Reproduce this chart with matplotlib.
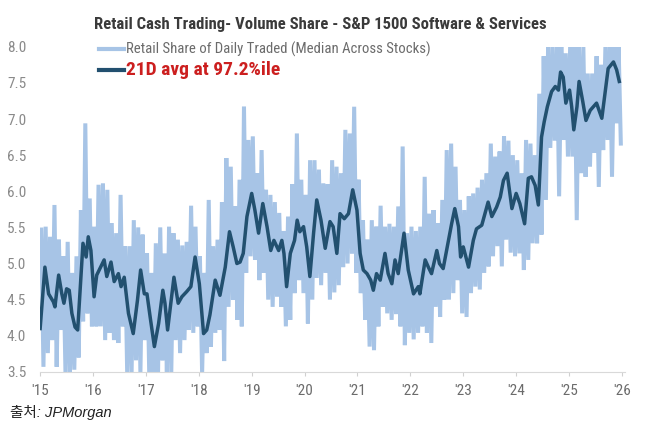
import matplotlib
matplotlib.use("Agg")
import matplotlib.pyplot as plt
import numpy as np

# MONTHLY ENVELOPE OF THE DAILY SERIES (HIGH / LOW), JAN 2015 .. DEC 2025
light_high = [
    5.47, 5.51, 5.37, 5.81, 5.33, 5.10, 5.30, 4.87, 5.10, 5.74, 6.94, 5.90,  # 2015
    5.51, 6.09, 6.11, 6.02, 5.56, 5.42, 5.95, 5.24, 5.24, 5.60, 5.50, 5.40,  # 2016
    5.14, 4.87, 5.28, 5.50, 5.14, 5.51, 5.42, 5.33, 5.25, 5.30, 5.80, 5.51,  # 2017
    5.10, 4.87, 5.88, 5.24, 5.33, 5.85, 6.46, 6.34, 5.79, 6.16, 7.17, 6.71,  # 2018
    6.76, 6.25, 6.57, 6.02, 5.95, 5.85, 5.70, 5.45, 5.65, 6.10, 6.80, 6.16,  # 2019
    5.95, 6.43, 6.43, 6.30, 6.11, 6.10, 6.43, 6.34, 6.25, 6.85, 6.80, 7.17,  # 2020
    6.16, 5.60, 5.33, 5.60, 5.51, 5.80, 5.51, 5.55, 5.51, 5.79, 6.62, 5.42,  # 2021
    5.51, 5.45, 5.51, 6.20, 5.69, 5.74, 5.56, 5.88, 6.57, 6.66, 6.34, 5.88,  # 2022
    5.74, 5.93, 5.97, 6.05, 6.16, 6.25, 6.66, 6.48, 6.55, 6.76, 6.70, 6.50,  # 2023
    6.43, 6.25, 6.71, 6.66, 6.50, 7.35, 7.87, 8.00, 8.00, 8.00, 8.00, 7.91,  # 2024
    8.00, 8.00, 8.00, 8.00, 7.63, 7.63, 7.87, 7.75, 8.00, 8.00, 8.00, 8.00,  # 2025
]
light_low = [
    3.57, 3.76, 3.94, 3.57, 4.08, 3.48, 3.48, 3.53, 3.70, 4.20, 4.31, 4.13,  # 2015
    4.13, 4.13, 3.94, 4.04, 3.94, 3.90, 4.13, 3.48, 3.48, 3.66, 3.48, 3.94,  # 2016
    3.48, 3.48, 3.48, 3.66, 3.48, 3.48, 3.94, 3.76, 3.94, 4.08, 4.04, 4.13,  # 2017
    3.48, 3.76, 3.85, 4.04, 4.08, 3.65, 4.40, 4.50, 4.22, 4.13, 4.87, 5.10,  # 2018
    5.05, 4.77, 4.87, 4.50, 4.40, 4.54, 4.40, 4.13, 4.22, 4.59, 4.77, 4.59,  # 2019
    4.17, 4.50, 4.80, 4.70, 4.87, 4.50, 4.60, 4.70, 4.95, 5.00, 5.14, 4.87,  # 2020
    4.59, 4.22, 3.85, 3.80, 4.13, 4.40, 4.31, 4.22, 4.30, 4.13, 3.87, 4.04,  # 2021
    3.95, 4.04, 4.13, 4.04, 3.90, 4.40, 4.26, 4.50, 4.50, 4.59, 4.77, 4.31,  # 2022
    4.26, 4.59, 4.68, 4.64, 4.87, 4.96, 5.10, 5.24, 4.96, 5.33, 5.15, 5.10,  # 2023
    5.14, 4.91, 5.05, 5.28, 5.28, 5.40, 5.88, 6.60, 6.70, 5.93, 6.71, 6.48,  # 2024
    6.48, 5.60, 6.25, 6.20, 6.34, 6.53, 6.06, 6.57, 6.71, 6.20, 6.94, 6.66,  # 2025
]

# 21D AVERAGE, (DECIMAL YEAR, VALUE)
avg_dates = [
    2015.00, 2015.09, 2015.16, 2015.25, 2015.28, 2015.35, 2015.41, 2015.45,
    2015.50, 2015.55, 2015.60, 2015.66, 2015.71, 2015.81, 2015.87, 2015.91,
    2015.96, 2016.02, 2016.07, 2016.13, 2016.21, 2016.26, 2016.34, 2016.40,
    2016.48, 2016.53, 2016.59, 2016.67, 2016.76, 2016.84, 2016.90, 2016.97,
    2017.02, 2017.08, 2017.16, 2017.24, 2017.32, 2017.36, 2017.41, 2017.47,
    2017.53, 2017.61, 2017.68, 2017.77, 2017.85, 2017.93, 2018.01, 2018.09,
    2018.15, 2018.21, 2018.31, 2018.40, 2018.50, 2018.58, 2018.65, 2018.72,
    2018.78, 2018.84, 2018.91, 2019.00, 2019.06, 2019.13, 2019.21, 2019.29,
    2019.36, 2019.42, 2019.51, 2019.57, 2019.61, 2019.66, 2019.73, 2019.81,
    2019.86, 2019.91, 2019.98, 2020.04, 2020.10, 2020.17, 2020.23, 2020.31,
    2020.39, 2020.48, 2020.54, 2020.61, 2020.67, 2020.75, 2020.83, 2020.91,
    2020.99, 2021.05, 2021.11, 2021.18, 2021.25, 2021.30, 2021.36, 2021.43,
    2021.52, 2021.58, 2021.65, 2021.71, 2021.77, 2021.88, 2021.96, 2022.06,
    2022.15, 2022.18, 2022.28, 2022.34, 2022.40, 2022.50, 2022.55, 2022.62,
    2022.72, 2022.78, 2022.84, 2022.91, 2022.95, 2023.00, 2023.10, 2023.19,
    2023.25, 2023.35, 2023.47, 2023.54, 2023.63, 2023.70, 2023.76, 2023.83,
    2023.92, 2024.00, 2024.07, 2024.16, 2024.23, 2024.29, 2024.36, 2024.42,
    2024.48, 2024.53, 2024.59, 2024.67, 2024.74, 2024.80, 2024.84, 2024.89,
    2024.94, 2025.01, 2025.05, 2025.09, 2025.15, 2025.19, 2025.26, 2025.32,
    2025.40, 2025.46, 2025.52, 2025.62, 2025.68, 2025.74, 2025.84, 2025.90,
    2025.95,
]
avg_values = [
    4.10, 4.95, 4.58, 4.47, 4.40, 4.84, 4.58, 4.45,
    4.65, 4.63, 4.31, 4.12, 4.08, 5.28, 5.09, 5.37,
    5.18, 4.54, 4.84, 4.93, 5.05, 4.82, 5.02, 4.75,
    4.86, 4.68, 4.81, 4.31, 4.03, 4.49, 4.91, 4.58,
    4.58, 4.26, 3.85, 4.17, 4.63, 4.45, 4.08, 4.45,
    4.81, 4.45, 4.54, 4.61, 4.68, 5.09, 4.72, 4.03,
    4.08, 4.29, 4.77, 4.56, 4.95, 5.44, 5.23, 5.00,
    5.02, 5.14, 5.65, 5.97, 5.74, 5.42, 5.83, 5.51,
    5.18, 5.32, 5.18, 5.32, 5.14, 4.68, 5.14, 5.32,
    5.60, 5.44, 5.51, 5.23, 4.82, 5.42, 5.88, 5.60,
    5.21, 5.58, 5.51, 5.14, 5.69, 5.62, 5.69, 6.02,
    5.74, 5.14, 4.91, 4.86, 4.77, 4.63, 4.86, 4.77,
    5.14, 4.86, 4.72, 5.05, 4.86, 5.42, 4.91, 4.58,
    4.68, 4.58, 5.05, 4.95, 4.86, 5.18, 5.00, 4.93,
    5.32, 5.55, 5.76, 5.51, 5.09, 5.23, 4.95, 5.32,
    5.48, 5.53, 5.85, 5.65, 5.78, 5.92, 6.15, 6.25,
    5.76, 5.97, 5.83, 5.55, 6.18, 6.20, 6.08, 5.81,
    6.75, 6.96, 7.17, 7.38, 7.45, 7.40, 7.65, 7.58,
    7.22, 7.40, 7.17, 6.85, 7.17, 7.52, 7.24, 6.98,
    7.12, 7.17, 7.22, 7.01, 7.36, 7.70, 7.79, 7.68,
    7.52,
]

years = list(range(2015, 2027))
year_labels = ["'" + str(y)[2:] for y in years]
y_ticks = [3.5, 4.0, 4.5, 5.0, 5.5, 6.0, 6.5, 7.0, 7.5, 8.0]

LIGHT = "#a7c4e6"
DARK = "#22506f"
NARROW = ["Liberation Sans Narrow", "Roboto Condensed", "Liberation Sans", "DejaVu Sans"]

# BUILD THE DAILY-LOOKING ZIGZAG: HIGH THEN LOW WITHIN EACH MONTH
month_start = 2015 + np.arange(len(light_high)) / 12.0
zig_x = np.column_stack([month_start + 0.25 / 12, month_start + 0.75 / 12]).ravel()
zig_y = np.column_stack([light_high, light_low]).ravel()

fig = plt.figure(figsize=(6.58, 4.37), dpi=100)
ax = fig.add_axes([0.061, 0.149, 0.889, 0.744])

ax.plot(zig_x, zig_y, color=LIGHT, lw=2.9, solid_joinstyle="miter",
        label="Retail Share of Daily Traded (Median Across Stocks)")
ax.plot(avg_dates, avg_values, color=DARK, lw=2.5,
        label="21D avg at 97.2%ile")

ax.set_xlim(2015.0, 2026.06)
ax.set_ylim(3.5, 8.0)
ax.set_xticks(years)
ax.set_xticklabels(year_labels, family=NARROW, fontsize=11, color="#6b6b6b")
ax.set_yticks(y_ticks)
ax.set_yticklabels([f"{v:.1f}" for v in y_ticks], family=NARROW,
                   fontsize=11, color="#8a8a8a")
ax.tick_params(axis="y", length=0, pad=10)
ax.tick_params(axis="x", length=3, color="#d0d0d0", pad=6)
for side in ["top", "right", "left"]:
    ax.spines[side].set_visible(False)
ax.spines["bottom"].set_color("#d9d9d9")

fig.text(0.487, 0.945, "Retail Cash Trading- Volume Share - S&P 1500 Software & Services",
         ha="center", va="center", family=NARROW, fontsize=12.0,
         fontweight="bold", color="#3a3a3a")

leg = ax.legend(loc="upper left", bbox_to_anchor=(0.141, 0.917),
                bbox_transform=fig.transFigure, frameon=False,
                handlelength=1.75, handletextpad=0.1, labelspacing=0.25,
                borderaxespad=0, prop={"family": NARROW, "size": 10.6})
leg.get_lines()[0].set_linewidth(3)
leg.get_lines()[1].set_linewidth(3)
leg.get_texts()[0].set_color("#6b6b6b")
leg.get_texts()[1].set_color("#cc1f1f")
leg.get_texts()[1].set_fontweight("bold")
leg.get_texts()[1].set_fontsize(14)

fig.text(0.015, 0.057, "출처: JPMorgan", ha="left", va="center",
         family=["Liberation Sans", "Noto Sans CJK KR"], style="italic",
         fontsize=10.5, color="#222222")

plt.savefig("out.png", dpi=100)
